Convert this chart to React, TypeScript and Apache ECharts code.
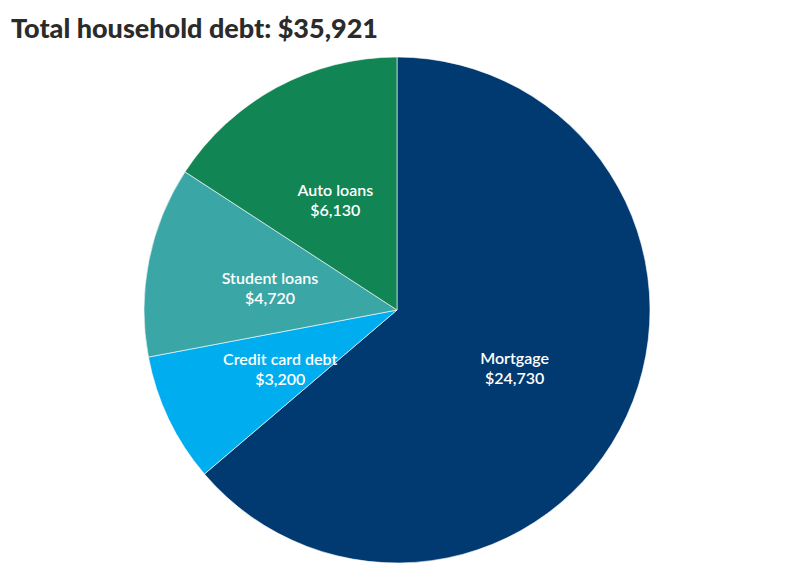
import { useEffect, useRef } from 'react'
import * as echarts from 'echarts'

const categories = ['Mortgage', 'Credit card debt', 'Student loans', 'Auto loans']
const amounts = [24730, 3200, 4720, 6130]
const sliceColors = ['#003a70', '#00adef', '#3aa6a6', '#118553']
const titleText = 'Total household debt: $35,921'

export default function App() {
  const chartRef = useRef<HTMLDivElement>(null)

  useEffect(() => {
    if (!chartRef.current) return
    const chart = echarts.init(chartRef.current, undefined, { renderer: 'svg' })

    const option = {
      animation: false,
      title: {
        text: titleText,
        left: 6,
        top: 9,
        textStyle: {
          fontFamily: 'Lato',
          fontWeight: 900,
          fontSize: 27,
          color: '#2b2b2b'
        }
      },
      series: [
        {
          type: 'pie',
          center: [397, 310],
          radius: [0, 253],
          startAngle: 90,
          clockwise: true,
          data: categories.map((name, i) => ({
            name,
            value: amounts[i],
            itemStyle: { color: sliceColors[i] }
          })),
          itemStyle: {
            borderColor: '#ffffff',
            borderWidth: 0.6
          },
          label: {
            show: true,
            position: 'inside',
            offset: [0, 3],
            formatter: (p: any) => `${p.name}\n$${p.value.toLocaleString('en-US')}`,
            fontFamily: 'Lato',
            fontSize: 16,
            fontWeight: 600,
            lineHeight: 20,
            color: '#ffffff'
          },
          labelLine: { show: false },
          emphasis: { disabled: true }
        }
      ]
    }

    chart.setOption(option)

    return () => {
      chart.dispose()
    }
  }, [])

  return (
    <div
      ref={chartRef}
      style={{ position: 'fixed', left: 0, top: 0, width: '794px', height: '575px', background: '#ffffff' }}
    />
  )
}
